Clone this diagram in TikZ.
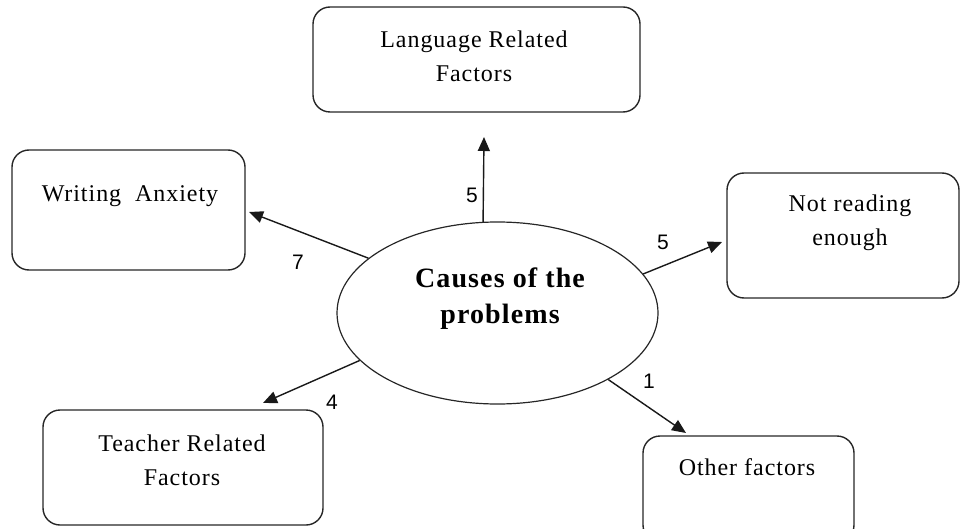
\documentclass[tikz,border=0pt]{standalone}
\usepackage{fontspec}
\setmainfont{Liberation Serif}[LetterSpace=4]
\newfontfamily\numfont{Liberation Sans}
\usetikzlibrary{arrows.meta,shapes.geometric}

\begin{document}
\begin{tikzpicture}[x=1pt,y=-1pt,
  box/.style={draw=black!85, line width=1.4pt, rounded corners=17pt, inner sep=0pt},
  boxtext/.style={font=\fontsize{24}{34}\selectfont, align=center, inner sep=0pt, anchor=base},
  num/.style={font=\numfont\fontsize{21}{21}\selectfont, inner sep=0pt},
  link/.style={draw=black!90, line width=1.4pt, -{Triangle[length=14pt,width=12pt]}}]
  \useasboundingbox (0,0) rectangle (965,529);
  \clip (0,0) rectangle (965,529);

  % central ellipse (multi-line captions are placed by their last baseline)
  \node[draw=black!85, line width=1.2pt, ellipse, minimum width=321pt, minimum height=182pt, inner sep=0pt]
    (cause) at (497.5,313) {};
  \node[font=\bfseries\fontsize{28}{36}\selectfont, align=center, inner sep=0pt, anchor=base]
    (causetext) at (500,323) {Causes of the\\problems};

  % surrounding boxes
  \node[box, minimum width=327pt, minimum height=105pt] (lang)    at (476.5,59.5) {};
  \node[box, minimum width=233pt, minimum height=120pt] (write)   at (128.5,210) {};
  \node[box, minimum width=232pt, minimum height=125pt] (read)    at (843,235.5) {};
  \node[box, minimum width=280pt, minimum height=115pt] (teacher) at (183,467.5) {};
  \node[box, minimum width=211pt, minimum height=106pt] (other)   at (748.5,489) {};

  % box captions
  \node[boxtext] (langtext)    at (474,82)  {Language Related\\Factors};
  \node[boxtext] (writetext)   at (130,202) {Writing\ \ Anxiety};
  \node[boxtext] (readtext)    at (850,245) {Not reading\\enough};
  \node[boxtext] (teachertext) at (182,485) {Teacher Related\\Factors};
  \node[boxtext] (othertext)   at (747,475) {Other factors};

  % arrow heads stop short of the boxes
  \coordinate (langtip)    at (484,137);
  \coordinate (writetip)   at (249,212);
  \coordinate (readtip)    at (722,242);
  \coordinate (teachertip) at (263,403);
  \coordinate (othertip)   at (686,433);

  \draw[link] (cause.99.7)  -- (langtip);
  \draw[link] (cause.157.4) -- (writetip);
  \draw[link] (cause.15.4)  -- (readtip);
  \draw[link] (cause.199.7) -- (teachertip);
  \draw[link] (cause.329.6) -- (othertip);

  % counts
  \node[num] (nlang)    at (472,195) {5};
  \node[num] (nwrite)   at (298,262) {7};
  \node[num] (nread)    at (663,242) {5};
  \node[num] (nteacher) at (332,402) {4};
  \node[num] (nother)   at (649,381) {1};
\end{tikzpicture}
\end{document}
